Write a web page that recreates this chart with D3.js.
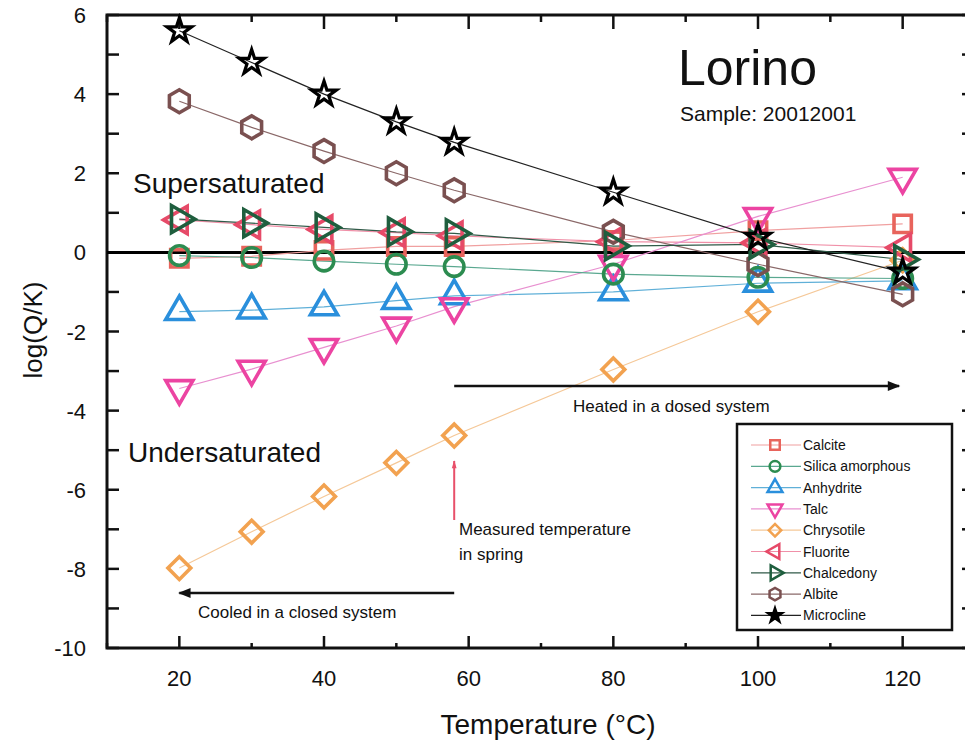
<!DOCTYPE html>
<html>
<head>
<meta charset="utf-8">
<script src="https://cdn.jsdelivr.net/npm/d3@7"></script>
<style>
  body { margin: 0; background: #fff; }
  text { font-family: "Liberation Sans", Arial, sans-serif; fill: #111; }
</style>
</head>
<body>
<div id="chart-area"></div>
<script>

// DATA
var temps = [20, 30, 40, 50, 58, 80, 100, 120];

var calcite    = [-0.15, -0.1, 0.05, 0.15, 0.15, 0.3, 0.55, 0.72];
var silica     = [-0.08, -0.13, -0.22, -0.3, -0.36, -0.55, -0.63, -0.66];
var anhydrite  = [-1.5, -1.46, -1.38, -1.22, -1.1, -1.0, -0.78, -0.72];
var talc       = [-3.44, -2.95, -2.4, -1.86, -1.37, -0.3, 0.91, 1.9];
var chrysotile = [-7.98, -7.06, -6.17, -5.32, -4.63, -2.96, -1.5, -0.2];
var fluorite   = [0.82, 0.7, 0.58, 0.5, 0.42, 0.27, 0.24, 0.12];
var chalcedony = [0.84, 0.74, 0.63, 0.52, 0.48, 0.16, 0.2, -0.18];
var albite     = [3.82, 3.16, 2.56, 2.0, 1.57, 0.52, -0.3, -1.06];
var microcline = [5.6, 4.8, 4.0, 3.3, 2.78, 1.52, 0.38, -0.5];

var seriesNames = ["Calcite", "Silica amorphous", "Anhydrite", "Talc", "Chrysotile",
                   "Fluorite", "Chalcedony", "Albite", "Microcline"];
var seriesValues = [calcite, silica, anhydrite, talc, chrysotile,
                    fluorite, chalcedony, albite, microcline];
var seriesColors = ["#e8645c", "#2c8c50", "#2a8fdc", "#ec44a2", "#f2a250",
                    "#e64a68", "#1f5e3e", "#7a5050", "#000000"];
var lineColors   = ["#f0a0a0", "#5aa890", "#60b0d8", "#e890d0", "#f5c898",
                    "#f090a8", "#305a48", "#8a6868", "#222222"];
var seriesShapes = ["square", "circle", "triUp", "triDown", "diamond",
                    "triLeft", "triRight", "hexagon", "star"];

// draw order (back to front)
var drawOrder = [4, 0, 5, 2, 3, 1, 7, 6, 8];

var yTicks = [6, 4, 2, 0, -2, -4, -6, -8, -10];
var xTicks = [20, 40, 60, 80, 100, 120];

// SVG drawing area
var W = 965, H = 746;
var plot = {left: 107, top: 15, right: 975, bottom: 648};

var svg = d3.select("#chart-area").append("svg")
    .attr("width", W)
    .attr("height", H);

// SCALES
var x = d3.scaleLinear().domain([10, 130]).range([plot.left, plot.right]);
var y = d3.scaleLinear().domain([-10, 6]).range([plot.bottom, plot.top]);

// custom hexagon symbol (pointy top)
var symbolHexagon = {
    draw: function(context, size) {
        var r = Math.sqrt(size / (1.5 * Math.sqrt(3)));
        for (var i = 0; i < 6; i++) {
            var a = Math.PI / 2 + i * Math.PI / 3;
            var px = r * Math.cos(a), py = r * Math.sin(a);
            if (i === 0) context.moveTo(px, py); else context.lineTo(px, py);
        }
        context.closePath();
    }
};

function markerPath(shape, k) {
    var sym = d3.symbol();
    if (shape === "square") sym.type(d3.symbolSquare).size(300 * k);
    else if (shape === "circle") sym.type(d3.symbolCircle).size(300 * k);
    else if (shape === "diamond") sym.type(d3.symbolSquare).size(260 * k);
    else if (shape === "hexagon") sym.type(symbolHexagon).size(340 * k);
    else if (shape === "star") sym.type(d3.symbolStar).size(190 * k);
    else sym.type(d3.symbolTriangle).size(320 * k);
    return sym();
}

function markerRotate(shape) {
    if (shape === "triDown") return 180;
    if (shape === "triLeft") return -90;
    if (shape === "triRight") return 90;
    if (shape === "diamond") return 45;
    return 0;
}

// AXES / FRAME
var axisG = svg.append("g").attr("class", "axes");

// left and right ticks (inward) every 1 unit
d3.range(-10, 7).forEach(function(v) {
    axisG.append("line")
        .attr("x1", plot.left).attr("x2", plot.left + 12)
        .attr("y1", y(v)).attr("y2", y(v))
        .attr("stroke", "#111").attr("stroke-width", 2.5);
    axisG.append("line")
        .attr("x1", plot.right).attr("x2", plot.right - 13)
        .attr("y1", y(v)).attr("y2", y(v))
        .attr("stroke", "#111").attr("stroke-width", 2.5);
});

// bottom / top ticks every 10
d3.range(10, 131, 10).forEach(function(v) {
    var major = v % 20 === 0;
    axisG.append("line")
        .attr("x1", x(v)).attr("x2", x(v))
        .attr("y1", plot.bottom).attr("y2", plot.bottom - (major ? 12 : 5))
        .attr("stroke", "#111").attr("stroke-width", 2.5);
    axisG.append("line")
        .attr("x1", x(v)).attr("x2", x(v))
        .attr("y1", plot.top).attr("y2", plot.top + (major ? 14 : 7))
        .attr("stroke", "#111").attr("stroke-width", 2.5);
});

axisG.append("rect")
    .attr("x", plot.left).attr("y", plot.top)
    .attr("width", plot.right - plot.left)
    .attr("height", plot.bottom - plot.top)
    .attr("fill", "none")
    .attr("stroke", "#111")
    .attr("stroke-width", 3);

// tick labels
svg.selectAll(".ylab")
    .data(yTicks)
    .enter().append("text")
    .attr("class", "ylab")
    .attr("x", 86)
    .attr("y", function(d) { return y(d) + 8; })
    .attr("text-anchor", "end")
    .style("font-size", "22px")
    .text(function(d) { return d; });

svg.selectAll(".xlab")
    .data(xTicks)
    .enter().append("text")
    .attr("class", "xlab")
    .attr("x", function(d) { return x(d); })
    .attr("y", 686)
    .attr("text-anchor", "middle")
    .style("font-size", "22px")
    .text(function(d) { return d; });

svg.append("text")
    .attr("transform", "translate(42,330) rotate(-90)")
    .attr("text-anchor", "middle")
    .style("font-size", "26px")
    .text("log(Q/K)");

svg.append("text")
    .attr("x", 548)
    .attr("y", 734)
    .attr("text-anchor", "middle")
    .style("font-size", "28px")
    .text("Temperature (°C)");

// zero line
svg.append("line")
    .attr("x1", plot.left).attr("x2", plot.right)
    .attr("y1", y(0)).attr("y2", y(0))
    .attr("stroke", "#000").attr("stroke-width", 3);

// LINES + MARKERS
var line = d3.line()
    .x(function(d) { return x(d[0]); })
    .y(function(d) { return y(d[1]); });

drawOrder.forEach(function(i) {
    var pts = temps.map(function(t, j) { return [t, seriesValues[i][j]]; });
    svg.append("path")
        .attr("d", line(pts))
        .attr("fill", "none")
        .attr("stroke", lineColors[i])
        .attr("stroke-width", 1.2);
});

drawOrder.forEach(function(i) {
    var pts = temps.map(function(t, j) { return [t, seriesValues[i][j]]; });
    svg.selectAll(".m" + i)
        .data(pts)
        .enter().append("path")
        .attr("class", "m" + i)
        .attr("d", markerPath(seriesShapes[i], 1))
        .attr("transform", function(d) {
            return "translate(" + x(d[0]) + "," + y(d[1]) + ") rotate(" + markerRotate(seriesShapes[i]) + ")";
        })
        .attr("fill", "none")
        .attr("stroke", seriesColors[i])
        .attr("stroke-width", seriesShapes[i] === "star" ? 3.2 : 3.6)
        .attr("stroke-linejoin", "miter");
});

// ANNOTATIONS
svg.append("text").attr("x", 678).attr("y", 85)
    .style("font-size", "50px").text("Lorino");
svg.append("text").attr("x", 680).attr("y", 121)
    .style("font-size", "21px").text("Sample: 20012001");
svg.append("text").attr("x", 133).attr("y", 193)
    .style("font-size", "28px").text("Supersaturated");
svg.append("text").attr("x", 128).attr("y", 462)
    .style("font-size", "28px").text("Undersaturated");

var defs = svg.append("defs");
defs.append("marker").attr("id", "arrowBlack")
    .attr("viewBox", "0 0 10 10").attr("refX", 9).attr("refY", 5)
    .attr("markerWidth", 6).attr("markerHeight", 5).attr("orient", "auto")
    .append("path").attr("d", "M0,1 L10,5 L0,9 Z").attr("fill", "#111");
defs.append("marker").attr("id", "arrowRed")
    .attr("viewBox", "0 0 10 10").attr("refX", 9).attr("refY", 5)
    .attr("markerWidth", 5).attr("markerHeight", 4).attr("orient", "auto")
    .append("path").attr("d", "M0,2 L10,5 L0,8 Z").attr("fill", "#e8506a");

svg.append("line")
    .attr("x1", x(58)).attr("x2", x(119.5))
    .attr("y1", 386).attr("y2", 386)
    .attr("stroke", "#111").attr("stroke-width", 2.5)
    .attr("marker-end", "url(#arrowBlack)");
svg.append("text").attr("x", 573).attr("y", 412)
    .style("font-size", "17px").text("Heated in a dosed system");

svg.append("line")
    .attr("x1", x(58)).attr("x2", x(20))
    .attr("y1", 593).attr("y2", 593)
    .attr("stroke", "#111").attr("stroke-width", 2.5)
    .attr("marker-end", "url(#arrowBlack)");
svg.append("text").attr("x", 198).attr("y", 618)
    .style("font-size", "17px").text("Cooled in a closed system");

svg.append("line")
    .attr("x1", x(58)).attr("x2", x(58))
    .attr("y1", 520).attr("y2", 461)
    .attr("stroke", "#e8506a").attr("stroke-width", 2)
    .attr("marker-end", "url(#arrowRed)");
svg.append("text").attr("x", 459).attr("y", 535)
    .style("font-size", "17px").text("Measured temperature");
svg.append("text").attr("x", 459).attr("y", 560)
    .style("font-size", "17px").text("in spring");

// LEGEND
var legend = svg.append("g").attr("transform", "translate(737,424)");
legend.append("rect")
    .attr("width", 215).attr("height", 206)
    .attr("fill", "#fff")
    .attr("stroke", "#111").attr("stroke-width", 2.5);

var rows = legend.selectAll(".lrow")
    .data(seriesNames)
    .enter().append("g")
    .attr("class", "lrow")
    .attr("transform", function(d, i) { return "translate(0," + (21 + i * 21.3) + ")"; });

rows.append("line")
    .attr("x1", 14).attr("x2", 64)
    .attr("stroke", function(d, i) { return lineColors[i]; })
    .attr("stroke-width", 1.2);

rows.append("path")
    .attr("d", function(d, i) { return markerPath(seriesShapes[i], 0.3); })
    .attr("transform", function(d, i) { return "translate(38,0) rotate(" + markerRotate(seriesShapes[i]) + ")"; })
    .attr("fill", function(d, i) { return seriesShapes[i] === "star" ? "#000" : "none"; })
    .attr("stroke", function(d, i) { return seriesColors[i]; })
    .attr("stroke-width", 2.5);

rows.append("text")
    .attr("x", 66)
    .attr("y", 5)
    .style("font-size", "14px")
    .text(function(d) { return d; });

</script>
</body>
</html>
